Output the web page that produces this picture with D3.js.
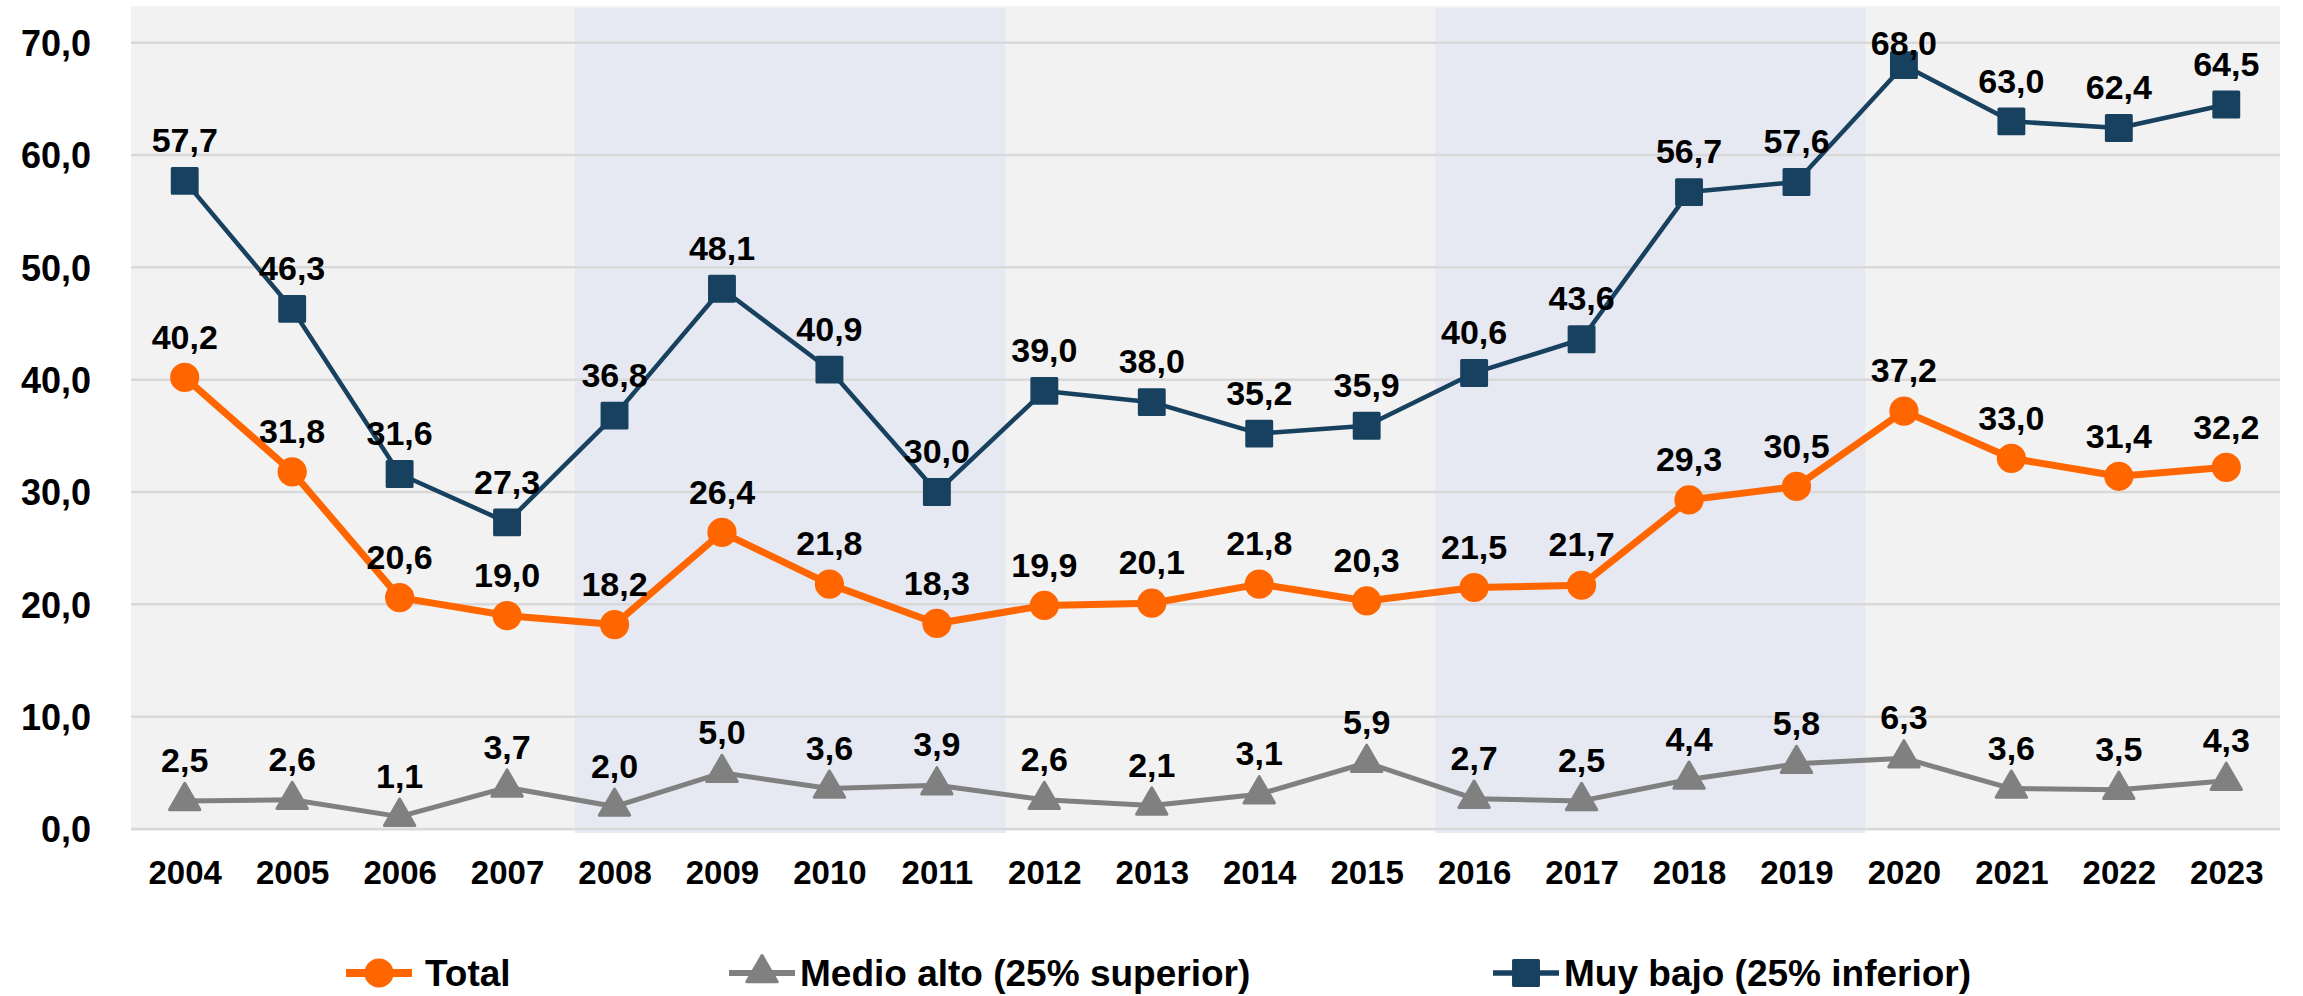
<!DOCTYPE html>
<html>
<head>
<meta charset="utf-8">
<script src="https://cdn.jsdelivr.net/npm/d3@7"></script>
<style>
  html, body { margin: 0; padding: 0; background: #fff; }
  text { font-family: 'Liberation Sans', Arial, sans-serif; font-weight: bold; fill: #000; }
</style>
</head>
<body>
<div id="chart"></div>
<script>
const years = [2004, 2005, 2006, 2007, 2008, 2009, 2010, 2011, 2012, 2013,
               2014, 2015, 2016, 2017, 2018, 2019, 2020, 2021, 2022, 2023];
const total = [40.2, 31.8, 20.6, 19.0, 18.2, 26.4, 21.8, 18.3, 19.9, 20.1,
               21.8, 20.3, 21.5, 21.7, 29.3, 30.5, 37.2, 33.0, 31.4, 32.2];
const medioAlto = [2.5, 2.6, 1.1, 3.7, 2.0, 5.0, 3.6, 3.9, 2.6, 2.1,
                   3.1, 5.9, 2.7, 2.5, 4.4, 5.8, 6.3, 3.6, 3.5, 4.3];
const muyBajo = [57.7, 46.3, 31.6, 27.3, 36.8, 48.1, 40.9, 30.0, 39.0, 38.0,
                 35.2, 35.9, 40.6, 43.6, 56.7, 57.6, 68.0, 63.0, 62.4, 64.5];
const yTicks = [0, 10, 20, 30, 40, 50, 60, 70];
// shaded periods, in year units
const shaded = [[2007.63, 2011.64], [2015.64, 2019.64]];

const series = [
  { name: 'Total', values: total, color: '#ff6600', width: 7, symbol: d3.symbolCircle, size: 540 },
  { name: 'Medio alto (25% superior)', values: medioAlto, color: '#808080', width: 5, symbol: d3.symbolTriangle, size: 400 },
  { name: 'Muy bajo (25% inferior)', values: muyBajo, color: '#17415f', width: 4.5, symbol: d3.symbolSquare, size: 620 }
];

const W = 2303, H = 996;
const plot = { left: 131, right: 2280, top: 6, bottom: 831 };

const svg = d3.select('#chart').append('svg')
  .attr('width', W)
  .attr('height', H);

const x = d3.scaleLinear().domain([years[0] - 0.5, years[years.length - 1] + 0.5]).range([plot.left, plot.right]);
const y = d3.scaleLinear().domain([0, 70]).range([829, 42.7]);

const locale = d3.formatLocale({ decimal: ',', thousands: '.', grouping: [3], currency: ['', '€'] });
const fmt = locale.format('.1f');

// background
svg.append('rect')
  .attr('x', plot.left).attr('y', plot.top)
  .attr('width', plot.right - plot.left).attr('height', plot.bottom - plot.top)
  .attr('fill', '#f2f2f2');

svg.selectAll('rect.band')
  .data(shaded)
  .enter().append('rect')
  .attr('class', 'band')
  .attr('x', (d) => x(d[0]))
  .attr('y', plot.top + 2)
  .attr('width', (d) => x(d[1]) - x(d[0]))
  .attr('height', plot.bottom - plot.top)
  .attr('fill', '#e6e8f2');

// gridlines
svg.selectAll('line.grid')
  .data(yTicks)
  .enter().append('line')
  .attr('class', 'grid')
  .attr('x1', plot.left).attr('x2', plot.right)
  .attr('y1', (d) => y(d)).attr('y2', (d) => y(d))
  .attr('stroke', '#d9d9d9')
  .attr('stroke-width', 2.5);

// axes
const yAxis = svg.append('g')
  .attr('transform', 'translate(' + plot.left + ',0)')
  .call(d3.axisLeft(y).tickValues(yTicks).tickSize(0).tickPadding(40).tickFormat(fmt));
yAxis.select('.domain').remove();
yAxis.selectAll('text').style('font-size', '36px').attr('dy', '0.36em');

const xAxis = svg.append('g')
  .attr('transform', 'translate(0,' + y(0) + ')')
  .call(d3.axisBottom(x).tickValues(years).tickSize(0).tickPadding(32).tickFormat(d3.format('d')));
xAxis.select('.domain').remove();
xAxis.selectAll('text').style('font-size', '33px');

// lines, markers, labels
const line = d3.line()
  .x((d, i) => x(years[i]))
  .y((d) => y(d));

const drawOrder = [series[1], series[2], series[0]];

drawOrder.forEach((s) => {
  const g = svg.append('g');
  g.append('path')
    .datum(s.values)
    .attr('fill', 'none')
    .attr('stroke', s.color)
    .attr('stroke-width', s.width)
    .attr('stroke-linejoin', 'round')
    .attr('d', line);

  g.selectAll('path.mk')
    .data(s.values)
    .enter().append('path')
    .attr('class', 'mk')
    .attr('transform', (d, i) => 'translate(' + x(years[i]) + ',' + y(d) + ')')
    .attr('d', d3.symbol().type(s.symbol).size(s.size))
    .attr('fill', s.color)
    .attr('stroke', s.color)
    .attr('stroke-width', 3)
    .attr('stroke-linejoin', 'round');
});

series.forEach((s) => {
  svg.append('g').selectAll('text')
    .data(s.values)
    .enter().append('text')
    .attr('x', (d, i) => x(years[i]))
    .attr('y', (d) => Math.max(y(d) - 41, y(70)))
    .attr('dy', '0.36em')
    .attr('text-anchor', 'middle')
    .style('font-size', '34px')
    .text((d) => fmt(d));
});

// legend
const legendX = [379, 762, 1526];
const legend = svg.append('g').attr('transform', 'translate(0,973)');
const items = legend.selectAll('g')
  .data(series)
  .enter().append('g')
  .attr('transform', (d, i) => 'translate(' + legendX[i] + ',0)');

items.append('line')
  .attr('x1', -33).attr('x2', 33)
  .attr('stroke', (d) => d.color)
  .attr('stroke-width', (d) => d.width + 1);
items.append('path')
  .attr('d', (d) => d3.symbol().type(d.symbol).size(d.size)())
  .attr('fill', (d) => d.color)
  .attr('stroke', (d) => d.color)
  .attr('stroke-width', 3)
  .attr('stroke-linejoin', 'round');
items.append('text')
  .attr('x', (d, i) => i === 0 ? 46 : 38)
  .attr('dy', '0.36em')
  .style('font-size', '37px')
  .text((d) => d.name);
</script>
</body>
</html>
